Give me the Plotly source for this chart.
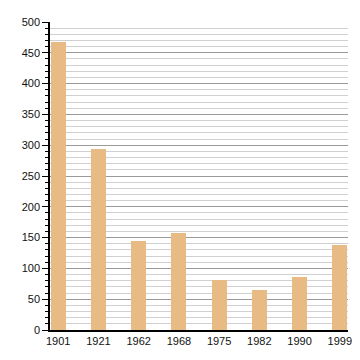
import plotly.graph_objects as go

years = ["1901", "1921", "1962", "1968", "1975", "1982", "1990", "1999"]
population = [467, 294, 144, 157, 81, 65, 86, 138]
y_ticks = [0, 50, 100, 150, 200, 250, 300, 350, 400, 450, 500]

bw = 0.37
x = list(range(len(years)))

fig = go.Figure(go.Bar(x=x, y=population, width=bw, marker=dict(color="#e8bb84", line=dict(width=0))))
fig.update_layout(
    width=352, height=352,
    margin=dict(l=42, r=8, t=13, b=30),
    plot_bgcolor="white", paper_bgcolor="white",
    showlegend=False,
    font=dict(family="Liberation Sans, Arial, sans-serif", size=11, color="#111"),
    bargap=0,
)
fig.update_xaxes(
    range=[-bw / 2 - 0.02, len(years) - 1 + bw / 2 + 0.02],
    tickvals=x, ticktext=years, showgrid=False, ticks="",
    showline=True, linecolor="black", linewidth=1.5, zeroline=False,
    tickfont=dict(size=11),
)
fig.update_yaxes(
    range=[0, 500], tickvals=y_ticks, showgrid=True, gridcolor="#9a9a9a", gridwidth=1,
    ticks="outside", ticklen=6, tickcolor="black", tickwidth=1,
    showline=True, linecolor="black", linewidth=1.5, zeroline=False,
    minor=dict(dtick=10, showgrid=True, gridcolor="#d0d0d0", gridwidth=1,
               ticks="outside", ticklen=3, tickcolor="black"),
    tickfont=dict(size=11),
)
fig.write_html("out.html")
